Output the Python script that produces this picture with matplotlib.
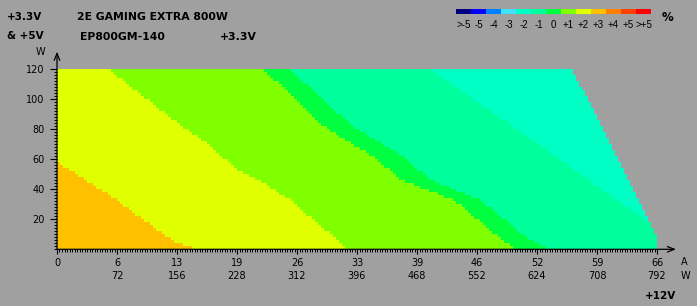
import numpy as np
import matplotlib
matplotlib.use("Agg")
import matplotlib.pyplot as plt
from matplotlib.colors import ListedColormap, BoundaryNorm
from matplotlib.transforms import blended_transform_factory

W_PX, H_PX = 697, 306
bg = "#a0a0a0"

# deviation scale, % (legend order)
legend_labels = [">-5", "-5", "-4", "-3", "-2", "-1", "0", "+1", "+2", "+3", "+4", "+5", ">+5"]
legend_colors = ["#000080", "#0000ff", "#0080ff", "#40e0ff", "#00ffc4", "#00ff9c",
                 "#00ff40", "#80ff00", "#e0ff00", "#ffc000", "#ff8000", "#ff4000", "#ff0000"]

# band boundaries: 12V current (A) at given +3.3V & +5V load (W)
# +3 / +2
b_p3_w = [0, 4, 13, 32, 40, 52, 58]
b_p3_a = [15.2, 13.2, 11.0, 6.7, 4.7, 1.6, 0.0]
# +2 / +1
b_p2_w = [0, 13, 33, 46, 53, 70, 86, 106, 120]
b_p2_a = [32.0, 29.5, 25.6, 22.3, 19.8, 16.6, 12.8, 8.6, 5.6]
# +1 / 0
b_p1_w = [0, 6, 33, 46, 60, 82, 100, 120]
b_p1_a = [50.5, 49.0, 43.6, 37.8, 35.2, 29.3, 26.2, 22.7]
# 0 / -1
b_0_w = [0, 6, 33, 46, 60, 82, 100, 120]
b_0_a = [54.0, 52.0, 46.5, 41.0, 38.5, 32.5, 29.2, 25.6]
# -1 / -2
b_m1_w = [14, 37, 60, 86, 120]
b_m1_a = [66.0, 60.6, 55.3, 49.1, 41.0]

max_amps = 66
max_watts = 120
total_power = 800

amp_labels = ["0", "6", "13", "19", "26", "33", "39", "46", "52", "59", "66"]
watt_labels = ["", "72", "156", "228", "312", "396", "468", "552", "624", "708", "792"]

# grid of measured points
a_edges = np.linspace(0, max_amps, 201)
w_edges = np.linspace(0, max_watts, 61)
ac = (a_edges[:-1] + a_edges[1:]) / 2
wc = (w_edges[:-1] + w_edges[1:]) / 2
A, Wg = np.meshgrid(ac, wc)

band = np.full(A.shape, 4)
for bw, ba, idx in [(b_m1_w, b_m1_a, 5), (b_0_w, b_0_a, 6), (b_p1_w, b_p1_a, 7),
                    (b_p2_w, b_p2_a, 8), (b_p3_w, b_p3_a, 9)]:
    lim = np.interp(Wg, bw, ba)
    band[A < lim] = idx
band = np.ma.masked_where(12 * A + Wg > total_power, band)

cmap = ListedColormap(legend_colors)
norm = BoundaryNorm(np.arange(-0.5, 13.5), 13)

fig = plt.figure(figsize=(W_PX / 100, H_PX / 100), dpi=100, facecolor=bg)

def fx(x):
    return x / W_PX

def fy(y):
    return 1 - y / H_PX

x0, x1 = 57, 676
y0, y1 = 249.3, 51.7
ax = fig.add_axes([fx(x0), fy(y0), (x1 - x0) / W_PX, (y0 - y1) / H_PX])
ax.set_facecolor(bg)
ax.pcolormesh(a_edges, w_edges, band, cmap=cmap, norm=norm)
ax.set_xlim(0, (x1 - x0) / (600 / 66))
ax.set_ylim(0, (y0 - y1) / 1.5)
for s in ax.spines.values():
    s.set_visible(False)

ax.annotate("", xy=(1, 0), xytext=(0, 0), xycoords="axes fraction",
            arrowprops=dict(arrowstyle="->,head_length=0.5,head_width=0.2", color="black", lw=0.9, shrinkA=0, shrinkB=0))
ax.annotate("", xy=(0, 1), xytext=(0, 0), xycoords="axes fraction",
            arrowprops=dict(arrowstyle="->,head_length=0.5,head_width=0.2", color="black", lw=0.9, shrinkA=0, shrinkB=0))

xt = [max_amps * i / 10 for i in range(11)]
ax.set_xticks(xt)
ax.set_xticklabels(amp_labels)
ax.set_xticks(np.linspace(0, max_amps, 241), minor=True)
ax.set_yticks(range(20, 121, 20))
ax.set_yticks(np.arange(0, 121, 2), minor=True)
ax.tick_params(axis="x", which="major", length=3.6, width=0.8, pad=2.5, labelsize=7, direction="out")
ax.tick_params(axis="x", which="minor", length=1.8, width=0.7, direction="out")
ax.tick_params(axis="y", which="major", length=5, width=0.8, pad=4, labelsize=7, direction="out")
ax.tick_params(axis="y", which="minor", length=2.2, width=0.7, direction="out")

tr = blended_transform_factory(ax.transData, fig.transFigure)
for x, lab in zip(xt, watt_labels):
    ax.text(x, fy(275.7), lab, transform=tr, ha="center", va="center", fontsize=7)

fig.text(fx(681), fy(262), "A", ha="left", va="center", fontsize=7)
fig.text(fx(681), fy(275.7), "W", ha="left", va="center", fontsize=7)
fig.text(fx(661), fy(296), "+12V", ha="center", va="center", fontsize=7.5, fontweight="bold")
fig.text(fx(40), fy(51.5), "W", ha="center", va="center", fontsize=7)

fig.text(fx(7), fy(16.5), "+3.3V", ha="left", va="center", fontsize=7.5, fontweight="bold")
fig.text(fx(7), fy(36), "& +5V", ha="left", va="center", fontsize=7.5, fontweight="bold")
fig.text(fx(77), fy(17), "2E GAMING EXTRA 800W", ha="left", va="center", fontsize=7.8, fontweight="bold")
fig.text(fx(80), fy(37), "EP800GM-140", ha="left", va="center", fontsize=7.8, fontweight="bold")
fig.text(fx(220), fy(37), "+3.3V", ha="left", va="center", fontsize=7.8, fontweight="bold")

# colour scale legend
lg = fig.add_axes([fx(456), fy(14), 195 / W_PX, 5 / H_PX])
lg.pcolormesh(np.arange(14), [0, 1], np.arange(13)[None, :], cmap=cmap, norm=norm)
lg.set_xlim(0, 13)
lg.set_ylim(0, 1)
lg.axis("off")
for i, lab in enumerate(legend_labels):
    fig.text(fx(456 + 15 * i + 7.5), fy(24.5), lab, ha="center", va="center",
             fontsize=7, family="Liberation Sans")
fig.text(fx(662), fy(17.5), "%", ha="left", va="center", fontsize=8.5, fontweight="bold")

fig.savefig("out.png", dpi=100, facecolor=bg)
